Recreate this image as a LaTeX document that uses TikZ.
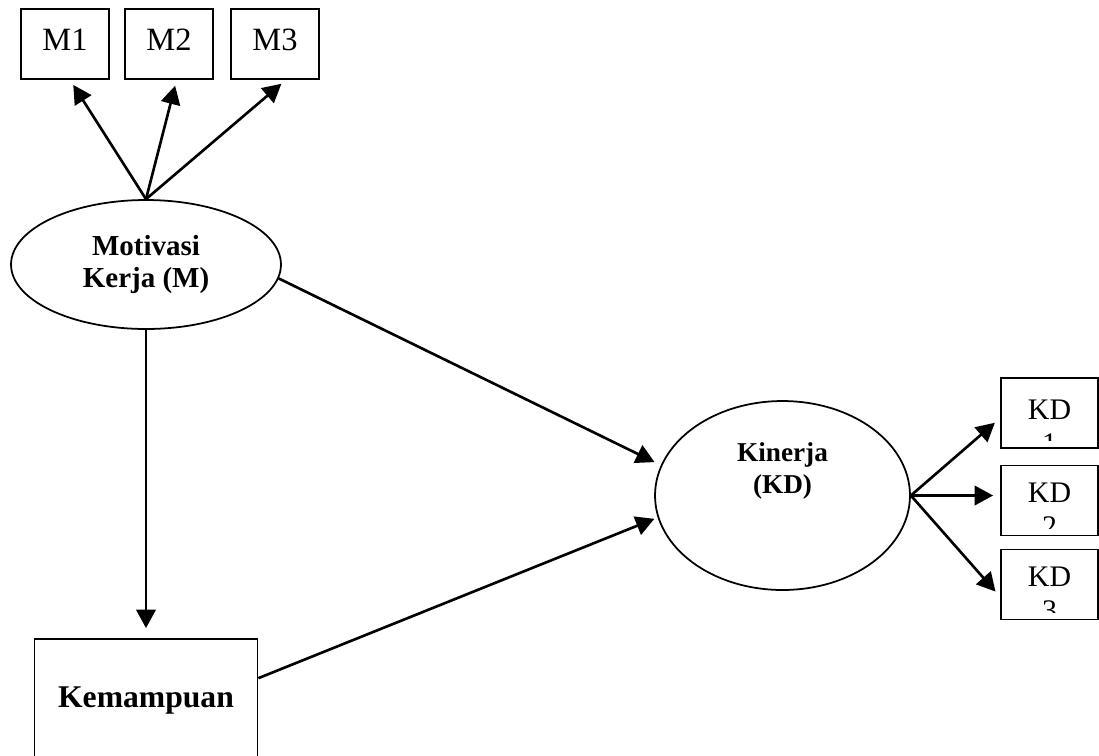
\documentclass[tikz,border=0pt]{standalone}
\usepackage{fontspec}
\setmainfont{Liberation Serif}
\usetikzlibrary{arrows.meta}
\usetikzlibrary{shapes.geometric}
\tikzset{>={Triangle[width=11pt,length=10.5pt]}}
\tikzset{
  mbox/.style={draw, line width=1pt, minimum width=1.76cm, minimum height=1.4cm, inner sep=0pt, font=\fontsize{18.5}{22}\selectfont, text depth=5pt},
  kdbox/.style={draw, line width=1pt, minimum width=1.94cm, minimum height=1.4cm, inner sep=0pt},
  kdtext/.style={anchor=base, inner sep=0pt, font=\fontsize{17}{20}\selectfont},
  latent/.style={draw, ellipse, line width=1pt, inner sep=0pt, align=center, font=\fontsize{16.5}{18}\selectfont\bfseries},
  link/.style={->, line width=1.5pt}
}

\begin{document}
\begin{tikzpicture}[x=0.02cm, y=-0.02cm]

  \useasboundingbox (0,0) rectangle (1099,755);
  \clip (0,0) rectangle (1099,755);

  \node[mbox] (m1) at (65,44) {M1};
  \node[mbox] (m2) at (169,44) {M2};
  \node[mbox] (m3) at (275,44) {M3};

  \node[latent, minimum width=5.4cm, minimum height=2.58cm] (mot) at (146,264.5) {Motivasi\\Kerja (M)};
  \node[latent, minimum width=5.1cm, minimum height=3.78cm] (kin) at (782.5,495.5) {};
  \node[align=center, inner sep=0pt, font=\fontsize{15.5}{18}\selectfont\bfseries] (kinlbl) at (782.5,471) {Kinerja\\(KD)};

  \node[draw, line width=1pt, minimum width=4.46cm, minimum height=2.44cm, font=\fontsize{18}{21}\selectfont\bfseries] (kem) at (146,700) {Kemampuan};

  % indicator boxes of Kinerja, second line cut off
  \foreach \i/\yc/\yb in {1/413/419, 2/500.5/502, 3/584.5/586} {
    \node[kdbox] (kd\i) at (1049.5,\yc) {};
    \begin{scope}
      \clip (kd\i.north west) rectangle ([yshift=4.5pt]kd\i.south east);
      \node[kdtext] (kdt\i) at (1049.5,\yb) {KD};
      \node[kdtext] (kdn\i) at (1049.5,\yb+34) {\i};
    \end{scope}
  }

  \draw[link, shorten >=0.12cm] (mot.north) -- (m1.-82);
  \draw[link, shorten >=0.12cm] (mot.north) -- (m2.-78);
  \draw[link, shorten >=0.12cm] (mot.north) -- (m3.-73);

  \draw[link, shorten >=0.14cm] (mot.-6) -- (kin.166);
  \draw[link, shorten >=0.2cm] (mot.south) -- (kem.north);
  \draw[link, shorten >=0.07cm] (kem.11) -- (kin.190);

  \draw[link, shorten >=0.14cm] (kin.east) -- (kd1.186);
  \draw[link, shorten >=0.14cm] (kin.east) -- (kd2.west |- kin.east);
  \draw[link, shorten >=0.14cm] (kin.east) -- (kd3.194);

\end{tikzpicture}
\end{document}
